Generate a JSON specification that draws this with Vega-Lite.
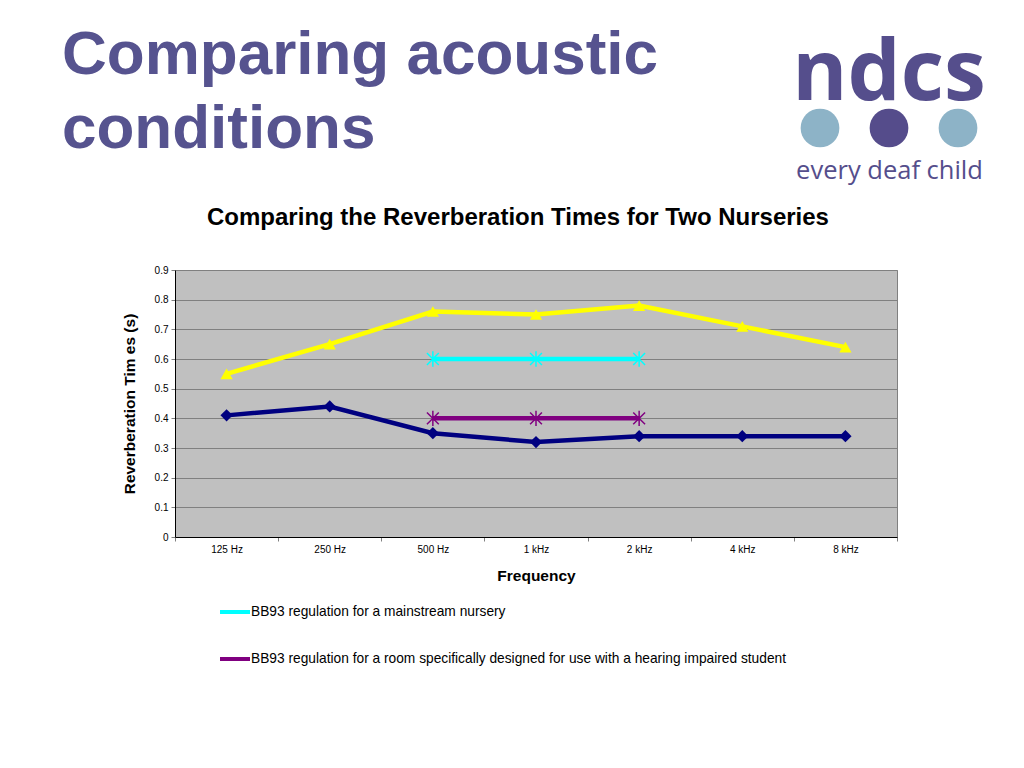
{
  "$schema": "https://vega.github.io/schema/vega-lite/v6.json",
  "background": "white",
  "padding": {"left": 62, "top": 24, "right": 10, "bottom": 10},
  "bounds": "flush",
  "spacing": 164,
  "resolve": {"scale": {"color": "independent", "x": "independent", "y": "independent", "shape": "independent"}, "legend": {"color": "independent"}},
  "config": {
    "font": "Liberation Sans",
    "view": {"stroke": null},
    "axis": {
      "labelFont": "Liberation Sans",
      "labelFontSize": 10,
      "labelColor": "#000000",
      "titleFont": "Liberation Sans",
      "titleFontSize": 15.5,
      "titleFontWeight": "bold",
      "titleColor": "#000000",
      "domainColor": "#000000",
      "tickColor": "#808080",
      "tickSize": 4
    },
    "legend": {"labelFont": "Liberation Sans"}
  },
  "vconcat": [
    {
      "bounds": "flush",
      "spacing": 10.5,
      "resolve": {"scale": {"color": "independent", "x": "independent"}},
      "hconcat": [
        {
          "width": 600,
          "height": 44,
          "view": {"stroke": null, "fill": null},
          "title": {
            "text": ["Comparing acoustic", "conditions"],
            "anchor": "start",
            "frame": "group",
            "dx": -113,
            "font": "Liberation Sans",
            "fontSize": 62,
            "fontWeight": "bold",
            "color": "#56538f",
            "lineHeight": 74,
            "offset": -55
          },
          "data": {"values": []},
          "mark": "point",
          "encoding": {}
        },
        {
          "width": 207,
          "height": 44,
          "view": {"stroke": null, "fill": null},
          "title": {
            "text": "ndcs",
            "anchor": "middle",
            "font": "Open Sans",
            "fontSize": 84,
            "fontWeight": "bold",
            "color": "#554e8c",
            "offset": -12
          },
          "data": {"values": [
            {"dot": "a", "tone": "light"},
            {"dot": "b", "tone": "dark"},
            {"dot": "c", "tone": "light"}
          ]},
          "mark": {"type": "circle", "size": 1500, "opacity": 1},
          "encoding": {
            "x": {
              "field": "dot",
              "type": "nominal",
              "axis": {
                "title": "every deaf child",
                "labels": false,
                "ticks": false,
                "domain": false,
                "titleFont": "Open Sans",
                "titleFontSize": 25.5,
                "titleFontWeight": "normal",
                "titleColor": "#554e8c",
                "titlePadding": 8
              }
            },
            "color": {
              "field": "tone",
              "type": "nominal",
              "scale": {"domain": ["light", "dark"], "range": ["#8db3c7", "#554c8b"]},
              "legend": null
            }
          }
        }
      ]
    },
    {
      "width": 722,
      "height": 267,
      "view": {"fill": "#c0c0c0", "stroke": "#808080"},
      "title": {
        "text": "Comparing the Reverberation Times for Two Nurseries",
        "font": "Liberation Sans",
        "fontSize": 24,
        "fontWeight": "bold",
        "color": "#000000",
        "anchor": "middle",
        "frame": "group",
        "dx": -18,
        "offset": 35
      },
      "data": {"values": [
        {"freq": "125 Hz", "series": "Nursery 1", "rt": 0.55},
        {"freq": "250 Hz", "series": "Nursery 1", "rt": 0.65},
        {"freq": "500 Hz", "series": "Nursery 1", "rt": 0.76},
        {"freq": "1 kHz", "series": "Nursery 1", "rt": 0.75},
        {"freq": "2 kHz", "series": "Nursery 1", "rt": 0.78},
        {"freq": "4 kHz", "series": "Nursery 1", "rt": 0.71},
        {"freq": "8 kHz", "series": "Nursery 1", "rt": 0.64},
        {"freq": "125 Hz", "series": "Nursery 2", "rt": 0.41},
        {"freq": "250 Hz", "series": "Nursery 2", "rt": 0.44},
        {"freq": "500 Hz", "series": "Nursery 2", "rt": 0.35},
        {"freq": "1 kHz", "series": "Nursery 2", "rt": 0.32},
        {"freq": "2 kHz", "series": "Nursery 2", "rt": 0.34},
        {"freq": "4 kHz", "series": "Nursery 2", "rt": 0.34},
        {"freq": "8 kHz", "series": "Nursery 2", "rt": 0.34},
        {"freq": "500 Hz", "series": "BB93 regulation for a mainstream nursery", "rt": 0.6},
        {"freq": "1 kHz", "series": "BB93 regulation for a mainstream nursery", "rt": 0.6},
        {"freq": "2 kHz", "series": "BB93 regulation for a mainstream nursery", "rt": 0.6},
        {"freq": "500 Hz", "series": "BB93 regulation for a room specifically designed for use with a hearing impaired student", "rt": 0.4},
        {"freq": "1 kHz", "series": "BB93 regulation for a room specifically designed for use with a hearing impaired student", "rt": 0.4},
        {"freq": "2 kHz", "series": "BB93 regulation for a room specifically designed for use with a hearing impaired student", "rt": 0.4}
      ]},
      "encoding": {
        "x": {
          "field": "freq",
          "type": "ordinal",
          "sort": ["125 Hz", "250 Hz", "500 Hz", "1 kHz", "2 kHz", "4 kHz", "8 kHz"],
          "scale": {"type": "band", "paddingInner": 0, "paddingOuter": 0},
          "axis": {
            "title": "Frequency",
            "labelAngle": 0,
            "tickBand": "extent",
            "labelPadding": 3,
            "titlePadding": 14,
            "grid": false
          }
        },
        "y": {
          "field": "rt",
          "type": "quantitative",
          "scale": {"domain": [0, 0.9], "nice": false},
          "axis": {
            "title": "Reverberation Tim es (s)",
            "values": [0, 0.1, 0.2, 0.3, 0.4, 0.5, 0.6, 0.7, 0.8, 0.9],
            "format": ".1~f",
            "grid": true,
            "gridColor": "#808080",
            "gridWidth": 1,
            "gridOpacity": 1,
            "labelPadding": 3,
            "titlePadding": 17
          }
        },
        "color": {
          "field": "series",
          "type": "nominal",
          "scale": {
            "domain": ["Nursery 1", "Nursery 2", "BB93 regulation for a mainstream nursery", "BB93 regulation for a room specifically designed for use with a hearing impaired student"],
            "range": ["#ffff00", "#000080", "#00ffff", "#800080"]
          },
          "legend": {
            "values": ["BB93 regulation for a mainstream nursery", "BB93 regulation for a room specifically designed for use with a hearing impaired student"],
            "title": null,
            "orient": "none",
            "legendX": 43,
            "legendY": 325,
            "direction": "vertical",
            "symbolType": "M-1,0H1",
            "symbolSize": 900,
            "symbolStrokeWidth": 4,
            "symbolFillColor": "transparent",
            "labelFontSize": 13.75,
            "labelColor": "#000000",
            "labelOffset": -1,
            "labelLimit": 700,
            "rowPadding": 22,
            "padding": 0
          }
        }
      },
      "layer": [
        {
          "mark": {"type": "line", "strokeWidth": 4.5}
        },
        {
          "transform": [{"filter": "indexof(datum.series, 'Nursery') === 0"}],
          "mark": {"type": "point", "filled": true, "size": 150, "opacity": 1},
          "encoding": {
            "shape": {
              "field": "series",
              "type": "nominal",
              "scale": {"domain": ["Nursery 1", "Nursery 2"], "range": ["triangle-up", "diamond"]},
              "legend": null
            }
          }
        },
        {
          "transform": [{"filter": "indexof(datum.series, 'BB93') === 0"}],
          "mark": {"type": "point", "filled": false, "size": 140, "strokeWidth": 1.5, "opacity": 1, "shape": "M-1,-1L1,1M-1,1L1,-1M0,-1.3L0,1.3"},
          "encoding": {}
        }
      ]
    }
  ]
}
